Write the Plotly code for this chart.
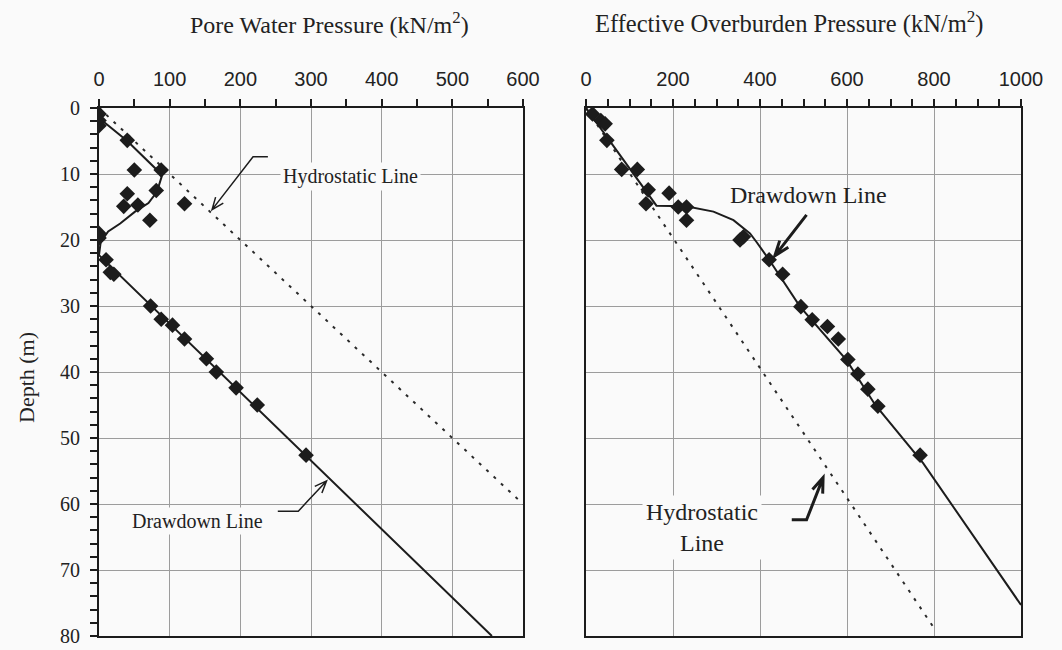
import math
import plotly.graph_objects as go

# ---------------- data ----------------
# Left panel: pore water pressure (kN/m2) vs depth (m)
pwp_depth = [0.9, 1.9, 2.7, 4.9, 9.4, 9.4, 12.5, 13.0, 14.9, 14.7, 14.5, 17.0, 19.0, 19.7,
             23.0, 24.9, 25.2, 30.0, 32.0, 32.9, 35.0, 38.0, 40.0, 42.4, 45.0, 52.6]
pwp_value = [0, 0, 0, 40, 50, 88, 81, 40, 35, 55, 121, 72, 0, 0,
             10, 16, 21, 73, 88, 104, 121, 152, 166, 194, 224, 293]

pwp_draw_value = [0, 40, 86, 88.7, 82, 70, 51, 30, 13, 2.4, 0, 556]
pwp_draw_depth = [1.5, 5.0, 9.8, 10.4, 12.7, 14.4, 15.7, 17.5, 18.7, 20.3, 22.3, 80]

pwp_hydro_value = [0, 600]
pwp_hydro_depth = [0, 60]

# Right panel: effective overburden pressure (kN/m2) vs depth (m)
eop_depth = [0.9, 1.9, 2.4, 4.9, 9.3, 9.3, 12.4, 12.9, 14.5, 15.0, 15.0, 17.0, 19.5, 20.0,
             23.0, 25.2, 30.1, 32.1, 33.1, 35.0, 38.1, 40.3, 42.6, 45.2, 52.6]
eop_value = [15, 34, 44, 48, 82, 118, 143, 191, 138, 212, 231, 231, 362, 354,
             421, 452, 494, 520, 555, 580, 602, 625, 648, 671, 768]

eop_draw_value = [0, 162, 230, 293, 339, 377, 392, 421, 492, 599, 665, 775, 1000]
eop_draw_depth = [0, 14.8, 14.9, 15.7, 17.0, 19.0, 20.3, 23.0, 30.1, 38.2, 45.0, 53.8, 75.3]

eop_hydro_value = [0, 800]
eop_hydro_depth = [0, 78.8]

left_title = "Pore Water Pressure (kN/m<sup>2</sup>)"
right_title = "Effective Overburden Pressure (kN/m<sup>2</sup>)"
y_title = "Depth (m)"

# ---------------- figure ----------------
W, H = 1062, 650
BG = "#fafafa"
INK = "#1c1c1c"
GRID = "#9c9c9c"
SERIF = "Liberation Serif, Times New Roman, serif"
SANS = "Liberation Sans, Arial, sans-serif"

LX0, LX1 = 99, 523
RX0, RX1 = 586, 1021
PY0, PY1 = 108, 636
L_SX = (LX1 - LX0) / 600.0
R_SX = (RX1 - RX0) / 1000.0
SY = (PY1 - PY0) / 80.0

fig = go.Figure()

# left panel
fig.add_trace(go.Scatter(x=pwp_hydro_value, y=pwp_hydro_depth, mode="lines",
                         line=dict(color="#2a2a2a", width=2, dash="3px,7px"),
                         xaxis="x", yaxis="y", showlegend=False))
fig.add_trace(go.Scatter(x=pwp_draw_value, y=pwp_draw_depth, mode="lines",
                         line=dict(color=INK, width=2),
                         xaxis="x", yaxis="y", showlegend=False))
fig.add_trace(go.Scatter(x=pwp_value, y=pwp_depth, mode="markers",
                         marker=dict(symbol="diamond", size=12, color=INK),
                         xaxis="x", yaxis="y", showlegend=False))

# right panel
fig.add_trace(go.Scatter(x=eop_hydro_value, y=eop_hydro_depth, mode="lines",
                         line=dict(color="#2a2a2a", width=2, dash="3px,7px"),
                         xaxis="x2", yaxis="y2", showlegend=False))
fig.add_trace(go.Scatter(x=eop_draw_value, y=eop_draw_depth, mode="lines",
                         line=dict(color=INK, width=2),
                         xaxis="x2", yaxis="y2", showlegend=False))
fig.add_trace(go.Scatter(x=eop_value, y=eop_depth, mode="markers",
                         marker=dict(symbol="diamond", size=12, color=INK),
                         xaxis="x2", yaxis="y2", showlegend=False))

ydom = [1 - PY1 / H, 1 - PY0 / H]

def xax(domain, rng, dtick, anchor):
    return dict(domain=domain, range=rng, side="top", anchor=anchor, automargin=False,
                dtick=dtick, tick0=0, ticks="outside", ticklen=7, tickwidth=1.5,
                tickcolor=INK, showline=True, linewidth=2, linecolor=INK, mirror=True,
                showgrid=True, gridcolor=GRID, gridwidth=1, zeroline=False,
                tickfont=dict(family=SANS, size=20, color="#222"),
                ticklabelstandoff=5,
                minor=dict(dtick=50, tick0=0, ticks="outside", ticklen=7, tickwidth=1.5,
                           tickcolor=INK, showgrid=False))

fig.update_layout(
    width=W, height=H,
    margin=dict(l=0, r=0, t=0, b=0),
    paper_bgcolor=BG, plot_bgcolor=BG,
    xaxis=xax([LX0 / W, LX1 / W], [0, 600], 100, "y"),
    xaxis2=xax([RX0 / W, RX1 / W], [0, 1000], 200, "y2"),
    yaxis=dict(domain=ydom, range=[80, 0], dtick=10, tick0=0, anchor="x", automargin=False,
               ticks="outside", ticklen=7, tickwidth=1.5, tickcolor=INK,
               showline=True, linewidth=2, linecolor=INK, mirror=True,
               showgrid=True, gridcolor=GRID, gridwidth=1, zeroline=False,
               tickfont=dict(family=SERIF, size=20, color="#222"),
               ticklabelstandoff=6,
               minor=dict(dtick=2, tick0=0, ticks="outside", ticklen=7, tickwidth=1.5,
                          tickcolor=INK, showgrid=False)),
    yaxis2=dict(domain=ydom, range=[80, 0], dtick=10, tick0=0, anchor="x2", automargin=False,
                ticks="", showticklabels=False,
                showline=True, linewidth=2, linecolor=INK, mirror=True,
                showgrid=True, gridcolor=GRID, gridwidth=1, zeroline=False),
)

ann = []
# titles
ann.append(dict(text=left_title, xref="paper", yref="paper", x=329 / W, y=1 - 23 / H,
                showarrow=False, font=dict(family=SERIF, size=24, color="#222"),
                xanchor="center", yanchor="middle"))
ann.append(dict(text=right_title, xref="paper", yref="paper", x=789 / W, y=1 - 23 / H,
                showarrow=False, font=dict(family=SERIF, size=24.5, color="#222"),
                xanchor="center", yanchor="middle"))
ann.append(dict(text=y_title, xref="paper", yref="paper", x=26 / W, y=1 - 378 / H,
                showarrow=False, textangle=-90, font=dict(family=SERIF, size=22, color="#222"),
                xanchor="center", yanchor="middle"))

# panel labels
ann.append(dict(text="Hydrostatic Line", xref="x", yref="y", x=356, y=10.4,
                showarrow=False, font=dict(family=SERIF, size=20, color="#222"),
                bgcolor=BG, borderpad=2))
ann.append(dict(text="Drawdown Line", xref="x", yref="y", x=139, y=62.6,
                showarrow=False, font=dict(family=SERIF, size=20, color="#222"),
                bgcolor=BG, borderpad=2))
ann.append(dict(text="Drawdown Line", xref="x2", yref="y2", x=512, y=13.2,
                showarrow=False, font=dict(family=SERIF, size=24, color="#222")))
ann.append(dict(text="Hydrostatic<br>Line", xref="x2", yref="y2", x=266, y=63.5,
                showarrow=False, font=dict(family=SERIF, size=24, color="#222"),
                bgcolor=BG, borderpad=3))
fig.update_layout(annotations=ann)


def arrow_path(points, sx, sy, head_len=13, ang=22):
    """Polyline through points (data units), with an open V head at the last point."""
    (tx, ty), (hx, hy) = points[-2], points[-1]
    dx, dy = (hx - tx) * sx, (hy - ty) * sy
    n = math.hypot(dx, dy)
    ux, uy = dx / n, dy / n
    wings = []
    for s in (1, -1):
        a = math.radians(ang) * s
        rx = ux * math.cos(a) - uy * math.sin(a)
        ry = ux * math.sin(a) + uy * math.cos(a)
        wings.append((hx - head_len * rx / sx, hy - head_len * ry / sy))
    p = "M " + " L ".join(f"{x},{y}" for x, y in points)
    p += f" M {wings[0][0]},{wings[0][1]} L {hx},{hy} L {wings[1][0]},{wings[1][1]}"
    return p


shapes = [
    dict(type="path", xref="x", yref="y",
         path=arrow_path([(239, 7.4), (218, 7.4), (160, 15.4)], L_SX, SY),
         line=dict(color=INK, width=1.5)),
    dict(type="path", xref="x", yref="y",
         path=arrow_path([(253, 61.1), (282, 61.1), (295, 59.6), (322, 56.5)], L_SX, SY),
         line=dict(color=INK, width=1.5)),
    dict(type="path", xref="x2", yref="y2",
         path=arrow_path([(507, 16.2), (434, 22.4)], R_SX, SY, head_len=16, ang=20),
         line=dict(color=INK, width=3)),
    dict(type="path", xref="x2", yref="y2",
         path=arrow_path([(473, 62.4), (507, 62.4), (545, 56.0)], R_SX, SY, head_len=16, ang=20),
         line=dict(color=INK, width=3)),
]
fig.update_layout(shapes=shapes)

fig.write_html("out.html", config={"displayModeBar": False},
               post_script="document.body.style.margin='0px';document.body.style.overflow='hidden';")
